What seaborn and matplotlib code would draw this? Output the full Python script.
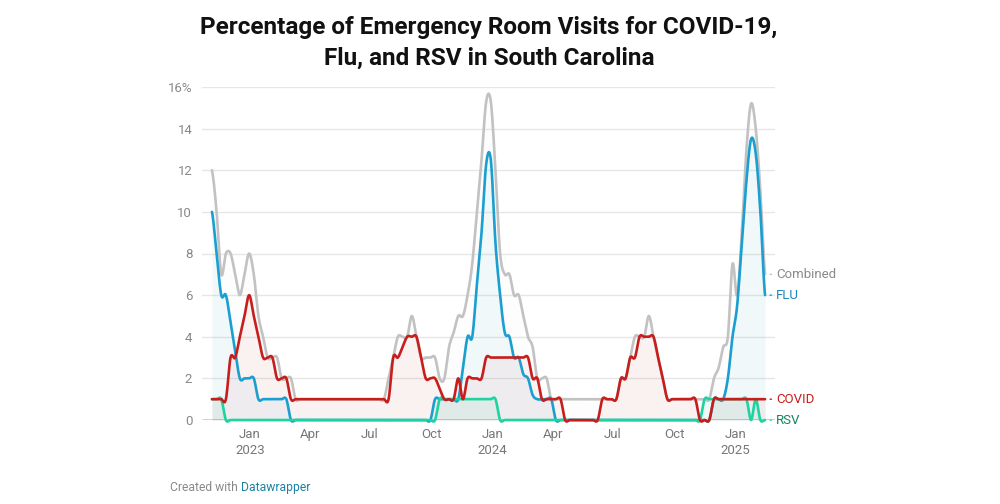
import numpy as np
import pandas as pd
import matplotlib
matplotlib.use("Agg")
import matplotlib.pyplot as plt
import matplotlib.dates as mdates
import seaborn as sns

# weekly values (percent of ER visits)
weeks = pd.date_range("2022-11-05", periods=120, freq="7D")

flu = ([10, 8, 6, 6, 4.7, 3.3, 2, 2, 2, 2, 1, 1, 1, 1, 1, 1, 1]
       + [0] * 31
       + [1, 1, 1, 1, 1, 1, 2.5, 4, 4, 6.5, 9, 12.3, 12.5, 8.5, 6, 4.2, 4,
          3, 3, 2.2, 2, 1.2, 1, 1, 1, 1]
       + [0] * 34
       + [1, 1, 1, 2, 4, 5.5, 8.5, 11.5, 13.5, 12.8, 10, 6])

covid = ([1, 1, 1, 1, 3, 3, 4, 5, 6, 5, 4, 3, 3, 3, 2, 2, 2]
         + [1] * 22
         + [3, 3, 3.5, 4, 4, 4, 3, 2, 2, 2, 1.5, 1, 1, 1, 2, 1, 2, 2, 2, 2]
         + [3] * 10
         + [2, 2, 1, 1, 1, 1, 1]
         + [0] * 8
         + [1, 1, 1, 1, 2, 2, 3, 3, 4, 4, 4, 4, 3, 2]
         + [1] * 7
         + [0, 0, 0]
         + [1] * 12)

rsv = ([1, 1, 1]
       + [0] * 46
       + [1] * 13
       + [0] * 44
       + [1] * 10
       + [0, 1, 0, 0])

combined = ([12, 10, 7, 8, 8, 7, 6, 7, 8, 7, 5, 4, 3, 3, 3, 2, 2, 2]
            + [1] * 20
            + [2, 3, 4, 4, 4, 5, 4, 3, 3, 3, 3, 2, 2, 3.5, 4.2, 5, 5, 6, 7.5,
               10, 12.5, 15.3, 15.3, 12, 8, 7, 7, 6, 6, 5, 4, 3.5, 2, 2, 2]
            + [1] * 15
            + [2, 2, 3, 4, 4, 4, 5, 4, 3, 2]
            + [1] * 10
            + [2, 2.5, 3.5, 4, 7.5, 6, 9, 13, 15.2, 14, 11, 7])

series = [
    ("Combined", combined, "#c2c2c2", "#8a8a8a", 0.025),
    ("FLU", flu, "#1a9fd0", "#1d87b9", 0.05),
    ("RSV", rsv, "#1fd3a0", "#12855f", 0.07),
    ("COVID", covid, "#c71e1d", "#c71e1d", 0.05),
]


def curve(xs, ys, n=10):
    # catmull-rom curve through the weekly points (drawing only)
    ys = np.asarray(ys, dtype=float)
    p = np.concatenate([[ys[0]], ys, [ys[-1]]])
    t = np.linspace(0, 1, n, endpoint=False)
    cx, cy = [], []
    for k in range(len(ys) - 1):
        p0, p1, p2, p3 = p[k], p[k + 1], p[k + 2], p[k + 3]
        seg = 0.5 * (2 * p1 + (-p0 + p2) * t + (2 * p0 - 5 * p1 + 4 * p2 - p3) * t ** 2
                     + (-p0 + 3 * p1 - 3 * p2 + p3) * t ** 3)
        cx.append(xs[k] + (xs[k + 1] - xs[k]) * t)
        cy.append(seg)
    cx.append([xs[-1]])
    cy.append([ys[-1]])
    return np.concatenate(cx), np.concatenate(cy)


sns.set_theme(style="white")
plt.rcParams["font.family"] = ["Roboto", "DejaVu Sans"]

fig = plt.figure(figsize=(10, 5.04), dpi=100)
ax = fig.add_axes([0.202, 84 / 504, 0.573, 333 / 504])

xnum = mdates.date2num(weeks)
for name, vals, col, tcol, a in series:
    cx, cy = curve(xnum, vals)
    ax.fill_between(cx, 0, cy, color=col, alpha=a, lw=0)
    sns.lineplot(x=cx, y=cy, ax=ax, color=col, lw=1.9, sort=False,
                 estimator=None, clip_on=False)
    ax.annotate(name, xy=(xnum[-1], vals[-1]), xytext=(8, 0),
                textcoords="offset points", va="center", ha="left",
                fontsize=9.5, color=tcol,
                arrowprops=dict(arrowstyle="-", linestyle=":", color=col,
                                lw=1, shrinkA=1, shrinkB=2))

ax.set_ylim(0, 16)
ax.set_xlim(mdates.date2num(pd.Timestamp("2022-10-21")),
            mdates.date2num(pd.Timestamp("2025-03-02")))

yt = list(range(0, 17, 2))
ax.set_yticks(yt)
ax.set_yticklabels([str(v) if v < 16 else "16%" for v in yt])
tick_dates = pd.to_datetime(["2023-01-01", "2023-04-01", "2023-07-01", "2023-10-01",
                             "2024-01-01", "2024-04-01", "2024-07-01", "2024-10-01",
                             "2025-01-01"])
tick_labels = ["Jan\n2023", "Apr", "Jul", "Oct", "Jan\n2024", "Apr", "Jul", "Oct",
               "Jan\n2025"]
ax.set_xticks(mdates.date2num(tick_dates))
ax.set_xticklabels(tick_labels, linespacing=1.3)

ax.grid(axis="y", color="#e6e6e6", lw=1)
ax.grid(axis="x", visible=False)
ax.axhline(0, color="#333333", lw=1, zorder=1)
for s in ax.spines.values():
    s.set_visible(False)
ax.tick_params(axis="y", length=0, pad=7, labelsize=9.5, labelcolor="#888888")
ax.tick_params(axis="x", length=0, pad=6, labelsize=9.5, labelcolor="#777777")
ax.set_xlabel("")
ax.set_ylabel("")

fig.text(0.489, 0.968, "Percentage of Emergency Room Visits for COVID-19,\nFlu, and RSV in South Carolina",
         ha="center", va="top", fontsize=17.5, fontweight="bold", color="#111111",
         linespacing=1.42)

credit = fig.text(0.170, 0.033, "Created with", ha="left", va="center",
                  fontsize=8.7, color="#888888")
fig.canvas.draw()
ax.annotate("Datawrapper", xy=(1, 0.5), xycoords=credit, xytext=(2.5, 0),
            textcoords="offset points", ha="left", va="center",
            fontsize=8.7, color="#1d81a2", annotation_clip=False)

fig.savefig("out.png", dpi=100)
